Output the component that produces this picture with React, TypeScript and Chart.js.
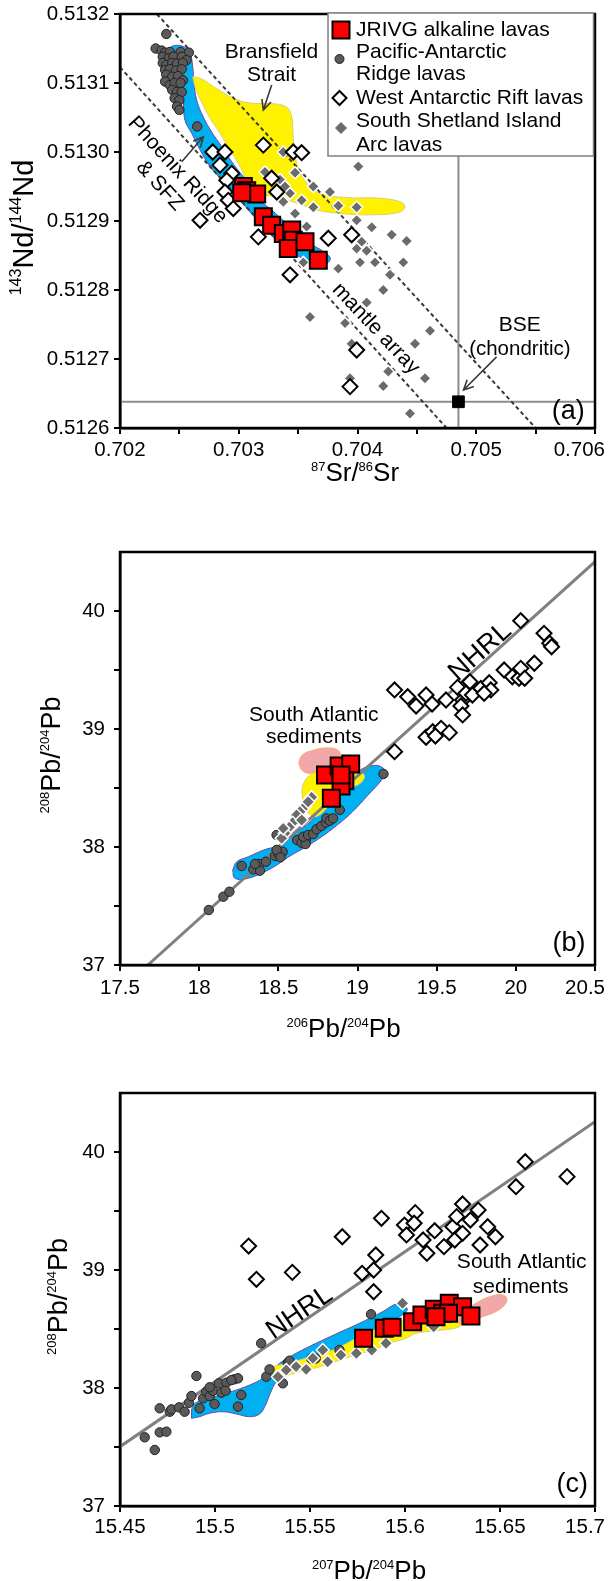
import React, { useEffect, useRef } from 'react';
import { Chart, registerables } from 'chart.js';

Chart.register(...registerables);

const FONT = '"Liberation Sans", Arial, Helvetica, sans-serif';
const W = 609;
type Pt = [number, number];

// ================= Panel (a): 143Nd/144Nd vs 87Sr/86Sr =================
const srTicks = [0.702, 0.7025, 0.703, 0.7035, 0.704, 0.7045, 0.705, 0.7055, 0.706];
const srTickLabels = ['0.702', '', '0.703', '', '0.704', '', '0.705', '', '0.706'];
const ndTicks = [0.5126, 0.5127, 0.5128, 0.5129, 0.513, 0.5131, 0.5132];
const ndTickLabels = ['0.5126', '0.5127', '0.5128', '0.5129', '0.5130', '0.5131', '0.5132'];

const jrivgSrNd: Pt[] = [
  [0.703039, 0.51295], [0.703067, 0.512944], [0.703151, 0.512939], [0.703025, 0.512941],
  [0.703207, 0.512906], [0.703277, 0.512894], [0.703375, 0.512882], [0.703446, 0.512887],
  [0.703459, 0.512872], [0.703417, 0.51286], [0.703558, 0.51287], [0.70367, 0.512843],
];
const parSrNd: Pt[] = [
  [0.70239, 0.513171], [0.7023, 0.51315], [0.70235, 0.513147], [0.70238, 0.513144], [0.70242, 0.513145],
  [0.70251, 0.513145], [0.70258, 0.513144], [0.70236, 0.513138], [0.70241, 0.513136], [0.70245, 0.513138],
  [0.70252, 0.513138], [0.70256, 0.513133], [0.70236, 0.513129], [0.70239, 0.513126], [0.70244, 0.513129],
  [0.70248, 0.513128], [0.70253, 0.513129], [0.70238, 0.513119], [0.70242, 0.51312], [0.70247, 0.513118],
  [0.70252, 0.51312], [0.70239, 0.513112], [0.70244, 0.513109], [0.70249, 0.51311], [0.70253, 0.513104],
  [0.70238, 0.513102], [0.70242, 0.513097], [0.70246, 0.5131], [0.70251, 0.5131], [0.70244, 0.51309],
  [0.70248, 0.513087], [0.70252, 0.513087], [0.70246, 0.513078], [0.7025, 0.513075], [0.70248, 0.513066],
  [0.7025, 0.513061], [0.70265, 0.513037],
];
const warSrNd: Pt[] = [
  [0.703207, 0.51301], [0.702781, 0.513], [0.702884, 0.513], [0.702842, 0.512981], [0.702941, 0.512969],
  [0.702899, 0.512959], [0.702884, 0.512942], [0.702912, 0.51293], [0.702954, 0.512918], [0.703459, 0.513],
  [0.70353, 0.512999], [0.702674, 0.512901], [0.703165, 0.512877], [0.703754, 0.512875], [0.703951, 0.51288],
  [0.703432, 0.512822], [0.703277, 0.512962], [0.70332, 0.512942], [0.703993, 0.512713], [0.703937, 0.51266],
];
const ssiSrNd: Pt[] = [
  [0.703375, 0.513], [0.704007, 0.512979], [0.703221, 0.512971], [0.703347, 0.51296], [0.703474, 0.51297],
  [0.703628, 0.51295], [0.703432, 0.51294], [0.70353, 0.51293], [0.703768, 0.512942], [0.703628, 0.51292],
  [0.703838, 0.512922], [0.703993, 0.51292], [0.703474, 0.512911], [0.703993, 0.512901], [0.703572, 0.512892],
  [0.70412, 0.512891], [0.704288, 0.51288], [0.704414, 0.512871], [0.704035, 0.51287], [0.703993, 0.51286],
  [0.704077, 0.512857], [0.704021, 0.51284], [0.704147, 0.51284], [0.704386, 0.51284], [0.703544, 0.51284],
  [0.703838, 0.512831], [0.704274, 0.512822], [0.704217, 0.5128], [0.704077, 0.512782], [0.7036, 0.512761],
  [0.703895, 0.512752], [0.704611, 0.512741], [0.703951, 0.512722], [0.704484, 0.512722], [0.704259, 0.512682],
  [0.704568, 0.512672], [0.703937, 0.512672], [0.704217, 0.512661], [0.704442, 0.512621], [0.703389, 0.51295],
  [0.703375, 0.512928],
];
const bseSrNd: Pt[] = [[0.70485, 0.512638]];
const parFieldSrNd: Pt[] = [
  [0.702407, 0.513149], [0.702449, 0.513154], [0.702533, 0.513153], [0.702589, 0.513143], [0.702612, 0.513124],
  [0.702623, 0.5131], [0.702646, 0.513075], [0.702701, 0.513051], [0.702772, 0.513029], [0.702856, 0.513008],
  [0.702941, 0.512986], [0.703025, 0.512967], [0.703109, 0.51295], [0.703179, 0.51293], [0.703277, 0.512916],
  [0.703432, 0.512892], [0.7036, 0.512868], [0.703768, 0.512848], [0.703741, 0.512839], [0.703572, 0.512843],
  [0.703347, 0.512868], [0.703179, 0.512897], [0.70308, 0.512916], [0.702983, 0.512935], [0.70287, 0.512957],
  [0.702758, 0.512979], [0.702674, 0.513003], [0.702604, 0.513027], [0.702547, 0.513046], [0.702533, 0.513071],
  [0.702505, 0.513095], [0.702477, 0.513119], [0.702435, 0.513138],
];
const bransfieldFieldSrNd: Pt[] = [
  [0.702612, 0.513109], [0.702674, 0.513107], [0.702814, 0.513092], [0.702954, 0.513078], [0.703095, 0.513071],
  [0.703291, 0.51307], [0.703404, 0.513065], [0.703446, 0.513051], [0.703459, 0.513022], [0.703488, 0.512984],
  [0.703572, 0.512955], [0.703684, 0.51294], [0.703909, 0.512934], [0.704189, 0.512933], [0.704358, 0.512928],
  [0.7044, 0.512921], [0.704358, 0.512913], [0.704133, 0.512909], [0.703853, 0.512911], [0.703656, 0.512916],
  [0.703488, 0.512926], [0.70332, 0.512935], [0.703179, 0.51294], [0.703067, 0.512959], [0.703011, 0.512979],
  [0.702926, 0.513003], [0.702842, 0.513027], [0.702758, 0.513049], [0.702691, 0.513071], [0.70264, 0.51309],
];
const mantleUpper: Pt[] = [[0.70231, 0.5132], [0.7055, 0.5126]];
const mantleLower: Pt[] = [[0.702, 0.513123], [0.70475, 0.5126]];
const bseVertical: Pt[] = [[0.70485, 0.5126], [0.70485, 0.5132]];
const chuurHorizontal: Pt[] = [[0.702, 0.512638], [0.706, 0.512638]];

// ================= Panel (b): 208Pb/204Pb vs 206Pb/204Pb =================
const pb206Ticks = [17.5, 18, 18.5, 19, 19.5, 20, 20.5];
const pb206TickLabels = ['17.5', '18', '18.5', '19', '19.5', '20', '20.5'];
const pb208Ticks = [37, 37.5, 38, 38.5, 39, 39.5, 40];
const pb208TickLabels = ['37', '', '38', '', '39', '', '40'];

const jrivgPb6: Pt[] = [
  [18.798, 38.61], [18.884, 38.686], [18.957, 38.703], [18.92, 38.562], [18.896, 38.517], [18.835, 38.413], [18.896, 38.61],
];
const parPb6: Pt[] = [
  [18.061, 37.466], [18.153, 37.579], [18.191, 37.621], [18.269, 37.839], [18.342, 37.811], [18.38, 37.856],
  [18.422, 37.875], [18.384, 37.799], [18.353, 37.856], [18.479, 37.924], [18.499, 37.947], [18.527, 37.96],
  [18.489, 37.975], [18.514, 37.913], [18.489, 38.102], [18.619, 38.059], [18.647, 38.036], [18.674, 38.059],
  [18.672, 38.025], [18.657, 38.087], [18.688, 38.102], [18.72, 38.11], [18.741, 38.15], [18.772, 38.178],
  [18.8, 38.206], [18.804, 38.243], [18.825, 38.223], [18.845, 38.243], [18.888, 38.314], [19.164, 38.619],
];
const ssiPb6: Pt[] = [
  [18.71, 38.421], [18.667, 38.342], [18.636, 38.299], [18.615, 38.271], [18.59, 38.206], [18.569, 38.167],
  [18.541, 38.116], [18.521, 38.074], [18.531, 38.158], [18.647, 38.229], [18.688, 38.384],
];
const warPb6: Pt[] = [
  [20.031, 39.918], [19.234, 39.331], [19.317, 39.274], [19.37, 39.195], [19.433, 39.288], [19.471, 39.212],
  [19.559, 39.246], [19.632, 39.353], [19.664, 39.246], [19.71, 39.401], [19.685, 39.303], [19.653, 39.195],
  [19.664, 39.119], [19.726, 39.288], [19.779, 39.345], [19.832, 39.392], [19.842, 39.331], [19.8, 39.303],
  [19.926, 39.5], [19.978, 39.443], [20.02, 39.43], [20.031, 39.514], [20.056, 39.43], [20.117, 39.557],
  [20.178, 39.811], [20.214, 39.726], [20.226, 39.697], [19.433, 38.93], [19.475, 38.977], [19.528, 39.006],
  [19.58, 38.969], [19.492, 38.941], [19.234, 38.808],
];
const parFieldPb6: Pt[] = [
  [18.212, 37.805], [18.225, 37.735], [18.311, 37.735], [18.457, 37.82], [18.567, 37.918], [18.676, 38.003],
  [18.774, 38.087], [18.872, 38.186], [18.969, 38.299], [19.067, 38.441], [19.152, 38.568], [19.177, 38.638],
  [19.139, 38.686], [19.079, 38.686], [19.018, 38.653], [18.944, 38.582], [18.872, 38.483], [18.798, 38.37],
  [18.701, 38.214], [18.603, 38.116], [18.506, 38.017], [18.408, 37.975], [18.311, 37.918], [18.237, 37.875],
];
const bransfieldFieldPb6: Pt[] = [
  [18.676, 38.582], [18.75, 38.653], [18.847, 38.681], [18.969, 38.667], [19.042, 38.61], [19.018, 38.54],
  [18.92, 38.483], [18.847, 38.398], [18.774, 38.286], [18.725, 38.257], [18.676, 38.314], [18.652, 38.426],
  [18.652, 38.511],
];
const sedimentFieldPb6: Pt[] = [
  [18.628, 38.709], [18.652, 38.78], [18.725, 38.822], [18.798, 38.839], [18.867, 38.828], [18.891, 38.78],
  [18.847, 38.709], [18.774, 38.658], [18.701, 38.625], [18.652, 38.647],
];
const nhrlPb6: Pt[] = [[17.676, 37.0], [20.5, 40.418]];

// ================= Panel (c): 208Pb/204Pb vs 207Pb/204Pb =================
const pb207Ticks = [15.45, 15.5, 15.55, 15.6, 15.65, 15.7];
const pb207TickLabels = ['15.45', '15.5', '15.55', '15.6', '15.65', '15.7'];

const jrivgPb7: Pt[] = [
  [15.5782, 38.421], [15.5891, 38.506], [15.5932, 38.514], [15.604, 38.562], [15.6089, 38.619], [15.6154, 38.667],
  [15.6233, 38.718], [15.6303, 38.689], [15.6198, 38.633], [15.6229, 38.633], [15.6163, 38.604], [15.6347, 38.61],
];
const parPb7: Pt[] = [
  [15.463, 37.582], [15.4683, 37.475], [15.4709, 37.624], [15.4744, 37.63], [15.4709, 37.828], [15.4762, 37.799],
  [15.4771, 37.819], [15.4811, 37.836], [15.484, 37.799], [15.4863, 37.875], [15.4876, 37.932], [15.4902, 38.102],
  [15.4919, 37.828], [15.4937, 37.913], [15.4954, 37.969], [15.4972, 37.932], [15.4989, 37.977], [15.4998, 37.864],
  [15.5021, 38.04], [15.5033, 37.96], [15.506, 38.045], [15.5056, 37.977], [15.5103, 38.074], [15.5121, 38.082],
  [15.5138, 37.941], [15.5121, 37.842], [15.5243, 38.379], [15.527, 38.096], [15.5287, 38.158], [15.5357, 38.04],
  [15.5383, 38.214], [15.4972, 38.006], [15.5086, 38.067], [15.5821, 38.625], [15.5392, 38.231], [15.5655, 38.322],
  [15.5506, 38.25], [15.553, 38.25],
];
const ssiPb7: Pt[] = [
  [15.5331, 38.096], [15.5375, 38.153], [15.5427, 38.181], [15.548, 38.158], [15.5515, 38.252], [15.5567, 38.322],
  [15.5593, 38.223], [15.5662, 38.28], [15.5744, 38.294], [15.5825, 38.322], [15.5987, 38.718], [15.6151, 38.519],
  [15.59, 38.379],
];
const warPb7: Pt[] = [
  [15.5177, 39.203], [15.5218, 38.921], [15.5407, 38.98], [15.567, 39.282], [15.5876, 39.438], [15.5774, 38.972],
  [15.5835, 39.0], [15.5846, 39.127], [15.5835, 38.816], [15.5997, 39.381], [15.6008, 39.297], [15.6054, 39.486],
  [15.6048, 39.396], [15.6095, 39.254], [15.6156, 39.333], [15.6115, 39.142], [15.6205, 39.198], [15.6252, 39.367],
  [15.6272, 39.452], [15.6303, 39.559], [15.6344, 39.424], [15.6385, 39.508], [15.6395, 39.212], [15.6435, 39.367],
  [15.6476, 39.282], [15.6584, 39.706], [15.6633, 39.918], [15.6853, 39.791], [15.6262, 39.254], [15.6303, 39.311],
];
const parFieldPb7: Pt[] = [
  [15.4876, 37.743], [15.4919, 37.757], [15.4972, 37.786], [15.5042, 37.799], [15.5112, 37.78], [15.5182, 37.757],
  [15.5235, 37.78], [15.5266, 37.856], [15.5291, 37.955], [15.5322, 38.053], [15.5375, 38.138], [15.5497, 38.22],
  [15.5655, 38.322], [15.5812, 38.424], [15.5944, 38.576], [15.6012, 38.661], [15.5987, 38.703], [15.5953, 38.712],
  [15.5882, 38.647], [15.576, 38.548], [15.5637, 38.458], [15.5532, 38.379], [15.5427, 38.294], [15.534, 38.209],
  [15.5304, 38.153], [15.5252, 38.082], [15.5182, 38.025], [15.5112, 37.983], [15.5042, 37.949], [15.4972, 37.913],
  [15.491, 37.884], [15.4881, 37.842],
];
const bransfieldFieldPb7: Pt[] = [
  [15.5304, 38.181], [15.5445, 38.237], [15.562, 38.322], [15.576, 38.435], [15.5882, 38.519], [15.6005, 38.576],
  [15.6128, 38.604], [15.6268, 38.619], [15.6303, 38.576], [15.6285, 38.519], [15.6198, 38.492], [15.6058, 38.464],
  [15.6005, 38.421], [15.5918, 38.379], [15.583, 38.322], [15.5707, 38.265], [15.5585, 38.195], [15.5445, 38.138],
  [15.5322, 38.096],
];
const sedimentFieldPb7: Pt[] = [
  [15.6285, 38.604], [15.6373, 38.718], [15.6478, 38.788], [15.6531, 38.774], [15.6531, 38.718], [15.6478, 38.647],
  [15.6408, 38.604], [15.6338, 38.562], [15.6285, 38.548],
];
const nhrlPb7: Pt[] = [[15.45, 37.503], [15.7, 40.257]];

const legendLabels = [
  ['JRIVG alkaline lavas'],
  ['Pacific-Antarctic', 'Ridge lavas'],
  ['West Antarctic Rift lavas'],
  ['South Shetland Island', 'Arc lavas'],
];

// ================= styles =================
const xy = (a: Pt[]) => a.map(([x, y]) => ({ x, y }));
const squares = (d: Pt[]) => ({
  data: xy(d), pointStyle: 'rect', pointRadius: 12, pointBackgroundColor: '#ff0000',
  pointBorderColor: '#000000', pointBorderWidth: 2, showLine: false, order: 0,
});
const openDiamonds = (d: Pt[]) => ({
  data: xy(d), pointStyle: 'rectRot', pointRadius: 7.5, pointBackgroundColor: '#ffffff',
  pointBorderColor: '#000000', pointBorderWidth: 2, showLine: false, order: 1,
});
const grayDiamonds = (d: Pt[], r: number) => ({
  data: xy(d), pointStyle: 'rectRot', pointRadius: r, pointBackgroundColor: '#6b6b6b',
  pointBorderColor: '#ffffff', pointBorderWidth: 1.5, showLine: false, order: 2,
});
const circles = (d: Pt[]) => ({
  data: xy(d), pointStyle: 'circle', pointRadius: 4.7, pointBackgroundColor: '#5a5a5a',
  pointBorderColor: '#222222', pointBorderWidth: 1, showLine: false, order: 3,
});
const field = (d: Pt[], fill: string, stroke: string, order: number) => ({
  data: xy([...d, d[0]]), showLine: true, fill: 'shape', backgroundColor: fill, borderColor: stroke,
  borderWidth: 1, pointRadius: 0, tension: 0.4, order,
});
const line = (d: Pt[], color: string, width: number, dash: number[], order: number) => ({
  data: xy(d), showLine: true, fill: false, borderColor: color, borderWidth: width, borderDash: dash,
  pointRadius: 0, tension: 0, order,
});

const BLUE = '#00b0f0', BLUE_EDGE = '#6a4aa8';
const YELLOW = '#fff200', YELLOW_EDGE = '#d8cf7a';
const PINK = '#f2a8a8', PINK_EDGE = '#f5a96b';

// ================= drawing helpers =================
function text(ctx: any, t: string, x: number, y: number, size: number, rot = 0) {
  ctx.save();
  ctx.translate(x, y);
  if (rot) ctx.rotate((rot * Math.PI) / 180);
  ctx.font = `${size}px ${FONT}`;
  ctx.fillStyle = '#000';
  ctx.textAlign = 'center';
  ctx.textBaseline = 'middle';
  ctx.fillText(t, 0, 0);
  ctx.restore();
}
function arrow(ctx: any, x1: number, y1: number, x2: number, y2: number) {
  const a = Math.atan2(y2 - y1, x2 - x1);
  ctx.save();
  ctx.strokeStyle = '#3a3a3a';
  ctx.lineWidth = 1.6;
  ctx.beginPath();
  ctx.moveTo(x1, y1);
  ctx.lineTo(x2, y2);
  ctx.moveTo(x2 - 11 * Math.cos(a - 0.45), y2 - 11 * Math.sin(a - 0.45));
  ctx.lineTo(x2, y2);
  ctx.lineTo(x2 - 11 * Math.cos(a + 0.45), y2 - 11 * Math.sin(a + 0.45));
  ctx.stroke();
  ctx.restore();
}
function rich(ctx: any, parts: [string, boolean][], cx: number, cy: number, F: number, f: number, vertical: boolean) {
  ctx.save();
  ctx.translate(cx, cy);
  if (vertical) ctx.rotate(-Math.PI / 2);
  const fm = `${F}px ${FONT}`;
  const fs = `${f}px ${FONT}`;
  const ws = parts.map(([t, s]) => { ctx.font = s ? fs : fm; return ctx.measureText(t).width; });
  const total = ws.reduce((p, q) => p + q, 0);
  let x = -total / 2;
  const base = 0.358 * F;
  ctx.fillStyle = '#000';
  ctx.textAlign = 'left';
  ctx.textBaseline = 'alphabetic';
  parts.forEach(([t, s], i) => {
    ctx.font = s ? fs : fm;
    ctx.fillText(t, x, s ? base - 0.4 * F : base);
    x += ws[i];
  });
  ctx.restore();
}
function drawLegend(ctx: any) {
  ctx.save();
  ctx.fillStyle = '#fff';
  ctx.fillRect(328, 13, 265.5, 143);
  ctx.strokeStyle = '#7f7f7f';
  ctx.lineWidth = 1.5;
  ctx.strokeRect(328, 13, 265.5, 143);
  // markers
  ctx.fillStyle = '#ff0000'; ctx.strokeStyle = '#000'; ctx.lineWidth = 2;
  ctx.fillRect(332.5, 21.5, 17, 17); ctx.strokeRect(332.5, 21.5, 17, 17);
  ctx.beginPath(); ctx.arc(339.5, 59, 4.5, 0, Math.PI * 2);
  ctx.fillStyle = '#5a5a5a'; ctx.fill(); ctx.lineWidth = 1; ctx.strokeStyle = '#222'; ctx.stroke();
  const diamond = (x: number, y: number, r: number) => {
    ctx.beginPath(); ctx.moveTo(x - r, y); ctx.lineTo(x, y - r); ctx.lineTo(x + r, y); ctx.lineTo(x, y + r); ctx.closePath();
  };
  diamond(339.5, 98, 7); ctx.fillStyle = '#fff'; ctx.fill(); ctx.lineWidth = 2; ctx.strokeStyle = '#000'; ctx.stroke();
  diamond(341, 128, 6); ctx.fillStyle = '#6b6b6b'; ctx.fill();
  // labels
  ctx.font = `21px ${FONT}`;
  ctx.fillStyle = '#000';
  ctx.textAlign = 'left';
  ctx.textBaseline = 'middle';
  const ys = [[30], [52, 74.5], [98], [121, 145]];
  legendLabels.forEach((lines, i) => lines.forEach((t, j) => ctx.fillText(t, 356, ys[i][j])));
  ctx.restore();
}

type Note = { t: string; x: number; y: number; size: number; rot?: number };
type Spec = {
  key: string;
  height: number;
  area: { top: number; bottom: number; left: number; right: number };
  x: { min: number; max: number; ticks: number[]; labels: string[]; pad: number };
  y: { min: number; max: number; ticks: number[]; labels: string[]; pad: number };
  datasets: any[];
  notes: Note[];
  arrows: number[][];
  xTitle: { parts: [string, boolean][]; cx: number; cy: number; F: number; f: number };
  yTitle: { parts: [string, boolean][]; cx: number; cy: number; F: number; f: number };
  legend?: boolean;
};

const TICK_SIZE = 20.5;

function buildConfig(spec: Spec): any {
  const tickFont = { family: FONT, size: TICK_SIZE };
  const grid = { display: true, drawOnChartArea: false, drawTicks: true, tickLength: 6, color: '#000', lineWidth: 2 };
  const border = { display: true, color: '#000', width: 2.5 };
  const decor = {
    id: 'decor_' + spec.key,
    afterDatasetsDraw(chart: any) {
      const ctx = chart.ctx;
      const xs = chart.scales.x;
      const ys = chart.scales.y;
      const X = (v: number) => xs.getPixelForValue(v);
      const Y = (v: number) => ys.getPixelForValue(v);
      spec.arrows.forEach((a) => arrow(ctx, X(a[0]), Y(a[1]), X(a[2]), Y(a[3])));
      spec.notes.forEach((n) => text(ctx, n.t, X(n.x), Y(n.y), n.size, n.rot || 0));
      const ca = chart.chartArea;
      ctx.save();
      ctx.strokeStyle = '#000';
      ctx.lineWidth = 2.5;
      ctx.strokeRect(ca.left, ca.top, ca.right - ca.left, ca.bottom - ca.top);
      ctx.restore();
      if (spec.legend) drawLegend(ctx);
      // last x tick label kept inside the canvas
      ctx.save();
      ctx.font = `${TICK_SIZE}px ${FONT}`;
      ctx.fillStyle = '#000';
      ctx.textAlign = 'right';
      ctx.textBaseline = 'middle';
      ctx.fillText(spec.x.labels[spec.x.labels.length - 1], W - 4, ca.bottom + 6 + spec.x.pad + (TICK_SIZE * 1.2) / 2);
      ctx.restore();
      const xt = spec.xTitle;
      rich(ctx, xt.parts, xt.cx, xt.cy, xt.F, xt.f, false);
      const yt = spec.yTitle;
      rich(ctx, yt.parts, yt.cx, yt.cy, yt.F, yt.f, true);
    },
  };
  return {
    type: 'scatter',
    data: { datasets: spec.datasets },
    options: {
      responsive: false,
      maintainAspectRatio: false,
      animation: false,
      events: [],
      layout: { padding: { left: 0, top: spec.area.top, right: W - spec.area.right, bottom: 0 } },
      plugins: { legend: { display: false }, tooltip: { enabled: false } },
      scales: {
        x: {
          type: 'linear',
          min: spec.x.min,
          max: spec.x.max,
          afterBuildTicks: (s: any) => { s.ticks = spec.x.ticks.map((v) => ({ value: v })); },
          afterFit: (s: any) => { s.height = spec.height - spec.area.bottom; s.paddingLeft = 0; s.paddingRight = 0; },
          ticks: {
            autoSkip: false, maxRotation: 0, minRotation: 0, font: tickFont, color: '#000', padding: spec.x.pad,
            callback: (_v: number, i: number) => (i === spec.x.labels.length - 1 ? '' : spec.x.labels[i]),
          },
          grid,
          border,
        },
        y: {
          type: 'linear',
          min: spec.y.min,
          max: spec.y.max,
          afterBuildTicks: (s: any) => { s.ticks = spec.y.ticks.map((v) => ({ value: v })); },
          afterFit: (s: any) => { s.width = spec.area.left; s.paddingTop = 0; s.paddingBottom = 0; },
          ticks: {
            autoSkip: false, font: tickFont, color: '#000', padding: spec.y.pad,
            callback: (_v: number, i: number) => spec.y.labels[i],
          },
          grid,
          border,
        },
      },
    },
    plugins: [decor],
  };
}

const specA: Spec = {
  key: 'a',
  height: 495,
  area: { top: 14, bottom: 428, left: 120, right: 596 },
  x: { min: 0.702, max: 0.706, ticks: srTicks, labels: srTickLabels, pad: 4 },
  y: { min: 0.5126, max: 0.5132, ticks: ndTicks, labels: ndTickLabels, pad: 4.5 },
  datasets: [
    squares(jrivgSrNd),
    openDiamonds(warSrNd),
    grayDiamonds(ssiSrNd, 6),
    circles(parSrNd),
    { data: xy(bseSrNd), pointStyle: 'rect', pointRadius: 8.3, pointBackgroundColor: '#000', pointBorderColor: '#000', pointBorderWidth: 1, showLine: false, order: 0 },
    line(mantleUpper, '#3a3a3a', 2, [4, 3], 4),
    line(mantleLower, '#3a3a3a', 2, [4, 3], 4),
    line(bseVertical, '#8c8c8c', 2, [], 5),
    line(chuurHorizontal, '#8c8c8c', 2, [], 5),
    field(bransfieldFieldSrNd, YELLOW, YELLOW_EDGE, 6),
    field(parFieldSrNd, BLUE, BLUE_EDGE, 7),
  ],
  notes: [
    { t: 'Bransfield', x: 0.703276, y: 0.513145, size: 21 },
    { t: 'Strait', x: 0.703276, y: 0.513112, size: 21 },
    { t: 'Phoenix Ridge', x: 0.702485, y: 0.512974, size: 21, rot: 47.6 },
    { t: '& SFZ', x: 0.702335, y: 0.512951, size: 21, rot: 47.6 },
    { t: 'mantle array', x: 0.704154, y: 0.512744, size: 21, rot: 46.6 },
    { t: 'BSE', x: 0.705367, y: 0.512749, size: 21 },
    { t: '(chondritic)', x: 0.705367, y: 0.512714, size: 20.5 },
    { t: '(a)', x: 0.705775, y: 0.512624, size: 27 },
  ],
  arrows: [
    [0.703277, 0.513097, 0.703207, 0.513061],
    [0.70252, 0.512986, 0.702701, 0.513022],
    [0.705171, 0.512703, 0.704893, 0.512655],
  ],
  xTitle: { parts: [['87', true], ['Sr/', false], ['86', true], ['Sr', false]], cx: 355, cy: 472, F: 26, f: 13 },
  yTitle: { parts: [['143', true], ['Nd/', false], ['144', true], ['Nd', false]], cx: 22.3, cy: 227.5, F: 29, f: 16 },
  legend: true,
};

const specB: Spec = {
  key: 'b',
  height: 550,
  area: { top: 57, bottom: 470, left: 120, right: 596 },
  x: { min: 17.5, max: 20.5, ticks: pb206Ticks, labels: pb206TickLabels, pad: 5 },
  y: { min: 37, max: 40.5, ticks: pb208Ticks, labels: pb208TickLabels, pad: 9 },
  datasets: [
    squares(jrivgPb6),
    openDiamonds(warPb6),
    grayDiamonds(ssiPb6, 6.5),
    circles(parPb6),
    line(nhrlPb6, '#808080', 3, [], 4),
    field(sedimentFieldPb6, PINK, PINK_EDGE, 5),
    field(bransfieldFieldPb6, YELLOW, YELLOW_EDGE, 6),
    field(parFieldPb6, BLUE, BLUE_EDGE, 7),
  ],
  notes: [
    { t: 'South Atlantic', x: 18.724, y: 39.119, size: 21 },
    { t: 'sediments', x: 18.724, y: 38.93, size: 21 },
    { t: 'NHRL', x: 19.775, y: 39.653, size: 27, rot: -41.8 },
    { t: '(b)', x: 20.336, y: 37.184, size: 27 },
  ],
  arrows: [],
  xTitle: { parts: [['206', true], ['Pb/', false], ['204', true], ['Pb', false]], cx: 343.5, cy: 533, F: 26, f: 13 },
  yTitle: { parts: [['208', true], ['Pb/', false], ['204', true], ['Pb', false]], cx: 50, cy: 260, F: 27, f: 13 },
};

const specC: Spec = {
  key: 'c',
  height: 536,
  area: { top: 48, bottom: 461, left: 120, right: 596 },
  x: { min: 15.45, max: 15.7, ticks: pb207Ticks, labels: pb207TickLabels, pad: 3 },
  y: { min: 37, max: 40.5, ticks: pb208Ticks, labels: pb208TickLabels, pad: 9 },
  datasets: [
    squares(jrivgPb7),
    openDiamonds(warPb7),
    grayDiamonds(ssiPb7, 6.5),
    circles(parPb7),
    line(nhrlPb7, '#808080', 3, [], 4),
    field(sedimentFieldPb7, PINK, PINK_EDGE, 5),
    field(bransfieldFieldPb7, YELLOW, YELLOW_EDGE, 6),
    field(parFieldPb7, BLUE, BLUE_EDGE, 7),
  ],
  notes: [
    { t: 'South Atlantic', x: 15.6614, y: 39.07, size: 21 },
    { t: 'sediments', x: 15.6609, y: 38.858, size: 21 },
    { t: 'NHRL', x: 15.5445, y: 38.636, size: 27, rot: -34.4 },
    { t: '(c)', x: 15.688, y: 37.178, size: 27 },
  ],
  arrows: [],
  xTitle: { parts: [['207', true], ['Pb/', false], ['204', true], ['Pb', false]], cx: 369, cy: 525, F: 26, f: 13 },
  yTitle: { parts: [['208', true], ['Pb/', false], ['204', true], ['Pb', false]], cx: 57, cy: 251.5, F: 27, f: 13 },
};

function Panel({ spec }: { spec: Spec }) {
  const ref = useRef<HTMLCanvasElement>(null);
  useEffect(() => {
    const chart = new Chart(ref.current as HTMLCanvasElement, buildConfig(spec));
    return () => chart.destroy();
  }, [spec]);
  return (
    <canvas
      ref={ref}
      width={W}
      height={spec.height}
      style={{ display: 'block', width: W, height: spec.height }}
    />
  );
}

export default function App() {
  return (
    <div style={{ position: 'absolute', left: 0, top: 0, width: W, height: 1581, background: '#fff', overflow: 'hidden' }}>
      <Panel spec={specA} />
      <Panel spec={specB} />
      <Panel spec={specC} />
    </div>
  );
}
